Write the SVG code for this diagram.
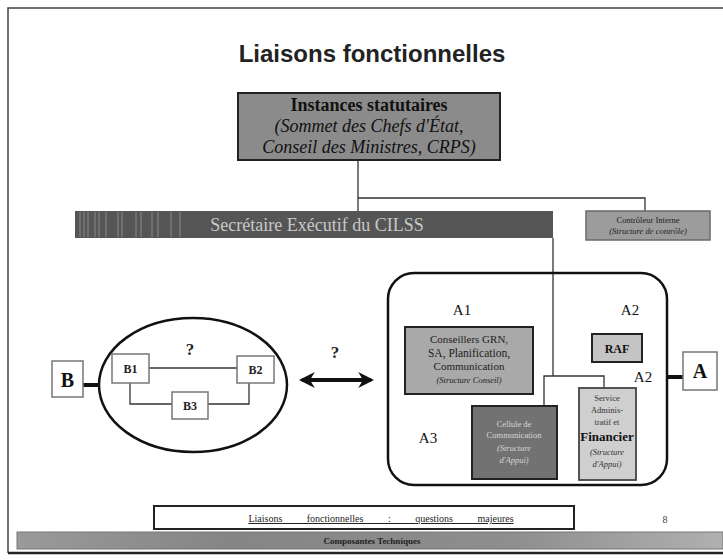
<svg xmlns="http://www.w3.org/2000/svg" width="723" height="560" viewBox="0 0 723 560">
<defs>
<style>
.serif{font-family:"Liberation Serif","Times New Roman",serif}
.sans{font-family:"Liberation Sans",Arial,sans-serif}
.conn{stroke:#333;stroke-width:1.3;fill:none}
.thick{stroke:#111;stroke-width:4;fill:none}
.box{stroke:#222;stroke-width:2}
.wbox{fill:#fff;stroke:#777;stroke-width:1.5}
</style>
<marker id="ah" viewBox="0 0 10 10" refX="8" refY="5" markerWidth="4" markerHeight="4" orient="auto-start-reverse">
<path d="M0,0 L10,5 L0,10 L3,5 z" fill="#111"/>
</marker>
<linearGradient id="barg" x1="0" y1="0" x2="1" y2="0">
<stop offset="0" stop-color="#9a9a9a"/>
<stop offset="0.3" stop-color="#858585"/>
<stop offset="0.7" stop-color="#8e8e8e"/>
<stop offset="1" stop-color="#b0b0b0"/>
</linearGradient>
</defs>
<rect width="723" height="560" fill="#fff"/>
<!-- frame -->
<path d="M8,553 L8,8 L723,8" fill="none" stroke="#444" stroke-width="1.5"/>
<line x1="8" y1="553" x2="723" y2="553" stroke="#222" stroke-width="2.5"/>

<text class="sans" x="372" y="62" font-size="24" font-weight="bold" text-anchor="middle" fill="#222">Liaisons fonctionnelles</text>

<g id="connectors">
<polyline class="conn" points="358,160 358,211"/>
<polyline class="conn" points="358,198 645,198 645,211"/>
<polyline class="conn" points="553,238 553,376"/>
<polyline class="conn" points="544,406 544,376 604,376 604,388"/>
<polyline class="conn" points="149,368 237,368"/>
<polyline class="conn" points="130,383 130,404 172,404"/>
<polyline class="conn" points="208,404 249,404 249,383"/>
<line class="thick" x1="83" y1="385" x2="100" y2="385"/>
<line class="thick" x1="667" y1="377" x2="683" y2="377"/>
<line x1="302" y1="380" x2="371" y2="380" stroke="#111" stroke-width="4" marker-start="url(#ah)" marker-end="url(#ah)"/>
</g>

<g id="instances">
<rect class="box" x="238" y="93" width="262" height="67" fill="#8b8b8b"/>
<text class="serif" x="369" y="111" font-size="18" font-weight="bold" text-anchor="middle" fill="#111">Instances statutaires</text>
<text class="serif" x="369" y="132" font-size="18" font-style="italic" text-anchor="middle" fill="#111">(Sommet des Chefs d'État,</text>
<text class="serif" x="369" y="153" font-size="18" font-style="italic" text-anchor="middle" fill="#111">Conseil des Ministres, CRPS)</text>
</g>

<g id="secretaire">
<rect x="75" y="211" width="478" height="27" fill="#555"/>
<g stroke="#8a8a8a" stroke-width="1">
<line x1="80" y1="212" x2="80" y2="237"/><line x1="84" y1="212" x2="84" y2="237"/><line x1="88" y1="212" x2="88" y2="237"/>
<line x1="95" y1="212" x2="95" y2="237"/><line x1="99" y1="212" x2="99" y2="237"/><line x1="106" y1="212" x2="106" y2="237"/>
<line x1="118" y1="212" x2="118" y2="237"/><line x1="122" y1="212" x2="122" y2="237"/><line x1="136" y1="212" x2="136" y2="237"/>
<line x1="141" y1="212" x2="141" y2="237"/><line x1="152" y1="212" x2="152" y2="237"/><line x1="158" y1="212" x2="158" y2="237"/>
<line x1="171" y1="212" x2="171" y2="237"/><line x1="180" y1="212" x2="180" y2="237"/>
</g>
<text class="serif" x="317" y="231" font-size="18" text-anchor="middle" fill="#c8c8c8">Secrétaire Exécutif du CILSS</text>
</g>

<g id="controleur">
<rect x="586" y="211" width="124" height="29" fill="#9c9c9c" stroke="#6a6a6a" stroke-width="1.5"/>
<text class="serif" x="648" y="223" font-size="8.5" text-anchor="middle" fill="#222">Contrôleur Interne</text>
<text class="serif" x="648" y="234" font-size="8.5" font-style="italic" text-anchor="middle" fill="#222">(Structure de contrôle)</text>
</g>

<g id="groupeA">
<rect x="388" y="273" width="279" height="212" rx="26" fill="none" stroke="#111" stroke-width="2.5"/>
<text class="serif" x="462" y="315" font-size="15" text-anchor="middle" fill="#111">A1</text>
<text class="serif" x="630" y="315" font-size="15" text-anchor="middle" fill="#111">A2</text>
<text class="serif" x="643" y="382" font-size="15" text-anchor="middle" fill="#111">A2</text>
<text class="serif" x="428" y="443" font-size="15" text-anchor="middle" fill="#111">A3</text>
</g>

<g id="conseillers">
<rect class="box" x="405" y="327" width="128" height="67" fill="#a9a9a9"/>
<text class="serif" x="469" y="343" font-size="11" text-anchor="middle" fill="#222">Conseillers GRN,</text>
<text class="serif" x="469" y="357" font-size="11.5" text-anchor="middle" fill="#222">SA, Planification,</text>
<text class="serif" x="469" y="370" font-size="11" text-anchor="middle" fill="#222">Communication</text>
<text class="serif" x="469" y="383" font-size="8.5" font-style="italic" text-anchor="middle" fill="#222">(Structure Conseil)</text>
</g>

<g id="raf">
<rect class="box" x="592" y="334" width="50" height="28" fill="#c4c4c4"/>
<text class="serif" x="617" y="353" font-size="12" font-weight="bold" text-anchor="middle" fill="#111">RAF</text>
</g>

<g id="cellule">
<rect class="box" x="472" y="406" width="85" height="73" fill="#727272"/>
<text class="serif" x="514" y="427" font-size="8.5" text-anchor="middle" fill="#d6d6d6">Cellule de</text>
<text class="serif" x="514" y="438" font-size="8.5" text-anchor="middle" fill="#d6d6d6">Communication</text>
<text class="serif" x="514" y="451" font-size="8.5" font-style="italic" text-anchor="middle" fill="#d6d6d6">(Structure</text>
<text class="serif" x="514" y="463" font-size="8.5" font-style="italic" text-anchor="middle" fill="#d6d6d6">d'Appui)</text>
</g>

<g id="service">
<rect x="579" y="388" width="57" height="92" fill="#cfcfcf" stroke="#444" stroke-width="1.8"/>
<text class="serif" x="607" y="401" font-size="8.5" text-anchor="middle" fill="#333">Service</text>
<text class="serif" x="607" y="413" font-size="8.5" text-anchor="middle" fill="#333">Adminis-</text>
<text class="serif" x="607" y="425" font-size="8.5" text-anchor="middle" fill="#333">tratif et</text>
<text class="serif" x="607" y="441" font-size="13" font-weight="bold" text-anchor="middle" fill="#111">Financier</text>
<text class="serif" x="607" y="455" font-size="8.5" font-style="italic" text-anchor="middle" fill="#333">(Structure</text>
<text class="serif" x="607" y="467" font-size="8.5" font-style="italic" text-anchor="middle" fill="#333">d'Appui)</text>
</g>

<g id="A">
<rect class="wbox" x="683" y="352" width="34" height="38"/>
<text class="serif" x="700" y="378" font-size="20" font-weight="bold" text-anchor="middle" fill="#111">A</text>
</g>

<g id="groupeB">
<ellipse cx="193" cy="385" rx="94" ry="67" fill="none" stroke="#111" stroke-width="2.5"/>
<text class="serif" x="190" y="355" font-size="17" font-weight="bold" text-anchor="middle" fill="#222">?</text>
</g>
<g id="B">
<rect class="wbox" x="52" y="361" width="31" height="36"/>
<text class="serif" x="67.5" y="387" font-size="20" font-weight="bold" text-anchor="middle" fill="#111">B</text>
</g>
<g id="B1">
<rect class="wbox" x="112" y="354" width="37" height="29"/>
<text class="serif" x="130.5" y="373" font-size="12" font-weight="bold" text-anchor="middle" fill="#222">B1</text>
</g>
<g id="B2">
<rect class="wbox" x="237" y="356" width="37" height="27"/>
<text class="serif" x="255.5" y="374" font-size="12" font-weight="bold" text-anchor="middle" fill="#222">B2</text>
</g>
<g id="B3">
<rect class="wbox" x="172" y="392" width="36" height="27"/>
<text class="serif" x="190" y="410" font-size="12" font-weight="bold" text-anchor="middle" fill="#222">B3</text>
</g>
<text class="serif" x="335" y="358" font-size="17" font-weight="bold" text-anchor="middle" fill="#222">?</text>

<g id="footer">
<rect x="154" y="506" width="420" height="23" fill="#fff" stroke="#222" stroke-width="2"/>
<text class="serif" x="381" y="522" font-size="10" text-anchor="middle" fill="#222" text-decoration="underline" word-spacing="22">Liaisons fonctionnelles : questions majeures</text>
<text class="serif" x="665" y="523" font-size="10" text-anchor="middle" fill="#444">8</text>
<rect x="17" y="532" width="706" height="17" fill="url(#barg)" stroke="#777" stroke-width="1"/>
<text class="serif" x="372" y="544" font-size="9" font-weight="bold" text-anchor="middle" fill="#222">Composantes Techniques</text>
</g>
</svg>
